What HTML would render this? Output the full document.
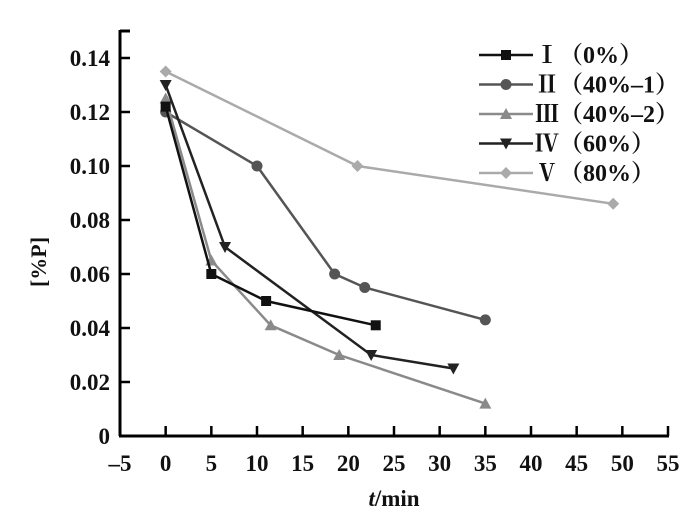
<!DOCTYPE html>
<html><head><meta charset="utf-8"><style>
body{margin:0;background:#fff}
svg text{font-family:"Liberation Serif","Noto Serif CJK SC",serif;fill:#111;font-weight:bold}
</style></head><body>
<svg id="chart" width="700" height="517" xmlns="http://www.w3.org/2000/svg"></svg>
<script>
const xTicks=[-5,0,5,10,15,20,25,30,35,40,45,50,55];
const yTicks=[0,0.02,0.04,0.06,0.08,0.10,0.12,0.14];
const yTickLabels=["0","0.02","0.04","0.06","0.08","0.10","0.12","0.14"];
const seriesNames=["Ⅰ（0%）","Ⅱ（40%–1）","Ⅲ（40%–2）","Ⅳ（60%）","Ⅴ（80%）"];
const s1x=[0,5,11,23], s1y=[0.122,0.060,0.050,0.041];
const s2x=[0,10,18.5,21.8,35], s2y=[0.120,0.100,0.060,0.055,0.043];
const s3x=[0,5,11.5,19,35], s3y=[0.125,0.065,0.041,0.030,0.012];
const s4x=[0,6.5,22.5,31.5], s4y=[0.130,0.070,0.030,0.025];
const s5x=[0,21,49], s5y=[0.135,0.100,0.086];
const colors=["#111","#555","#8a8a8a","#222","#aaa"];
const markers=["square","circle","up","down","diamond"];
const X=v=>120+(v+5)*(548/60);
const Y=v=>436-v*(54/0.02);
const svg=document.getElementById('chart');
const NS="http://www.w3.org/2000/svg";
function mk(t,a,p){const e=document.createElementNS(NS,t);for(const k in a)e.setAttribute(k,a[k]);(p||svg).appendChild(e);return e;}
function marker(type,x,y,c,g){
 let e;
 if(type==="square")e=mk('rect',{x:x-5,y:y-5,width:10,height:10,fill:c},g);
 else if(type==="circle")e=mk('circle',{cx:x,cy:y,r:5.5,fill:c},g);
 else if(type==="up")e=mk('polygon',{points:`${x-6},${y+5} ${x+6},${y+5} ${x},${y-6}`,fill:c},g);
 else if(type==="down")e=mk('polygon',{points:`${x-6},${y-5} ${x+6},${y-5} ${x},${y+6}`,fill:c},g);
 else e=mk('polygon',{points:`${x},${y-6} ${x+6},${y} ${x},${y+6} ${x-6},${y}`,fill:c},g);
 return e;
}
let ax=mk('line',{x1:120,y1:30,x2:120,y2:436,stroke:'#000','stroke-width':3});


let bx=mk('line',{x1:119,y1:436,x2:669,y2:436,stroke:'#000','stroke-width':3});


mk('line',{x1:120,y1:31,x2:130,y2:31,stroke:'#000','stroke-width':3});
xTicks.forEach(v=>{
 const t=mk('line',{x1:X(v),y1:436,x2:X(v),y2:426,stroke:'#000','stroke-width':2.5});
 
 
 const l=mk('text',{x:X(v),y:471,'text-anchor':'middle','font-size':23});
 l.textContent=v<0?'–'+(-v):String(v);
 
 
});
yTicks.forEach((v,i)=>{
 if(i>0){const t=mk('line',{x1:120,y1:Y(v),x2:130,y2:Y(v),stroke:'#000','stroke-width':2.5});
 
 }
 const l=mk('text',{x:110,y:Y(v)+8,'text-anchor':'end','font-size':23});
 l.textContent=yTickLabels[i];
 
 
});
let xt=mk('text',{x:394,y:506,'text-anchor':'middle','font-size':23});
xt.innerHTML='<tspan font-style="italic">t</tspan>/min';


let yt=mk('text',{x:0,y:0,'text-anchor':'middle','font-size':22,transform:'translate(46,262) rotate(-90)'});
yt.textContent='[%P]';


const SX=[s1x,s2x,s3x,s4x,s5x], SY=[s1y,s2y,s3y,s4y,s5y];
const drawOrder=[4,1,2,3,0];
drawOrder.forEach(i=>{
 const g=mk('g',{});
 
 
 const pts=SX[i].map((x,j)=>X(x)+','+Y(SY[i][j])).join(' ');
 mk('polyline',{points:pts,fill:'none',stroke:colors[i],'stroke-width':2.5},g);
 SX[i].forEach((x,j)=>{
  const m=marker(markers[i],X(x),Y(SY[i][j]),colors[i],g);
  
  
 });
});
const lg=mk('g',{});


seriesNames.forEach((n,i)=>{
 const y=55+i*29.5;
 const g=mk('g',{},lg);
 
 
 mk('line',{x1:479,y1:y,x2:533,y2:y,stroke:colors[i],'stroke-width':2.5},g);
 marker(markers[i],506,y,colors[i],g);
 const t=mk('text',{x:535,y:y+8,'font-size':24},g);
 t.textContent=n;
});
</script>
</body></html>
